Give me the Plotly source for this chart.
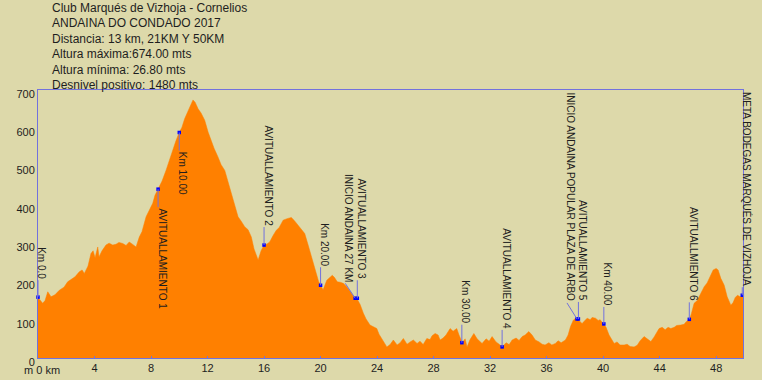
import plotly.graph_objects as go

# ---------------- data ----------------
header_lines = [
    "Club Marqués de Vizhoja - Cornelios",
    "ANDAINA DO CONDADO 2017",
    "Distancia: 13 km, 21KM Y 50KM",
    "Altura máxima:674.00 mts",
    "Altura mínima: 26.80 mts",
    "Desnivel positivo: 1480 mts",
]

dist_km = [
    0.00, 0.33, 0.50, 0.69, 0.92, 1.20, 1.51, 1.84, 2.10, 2.41, 2.62, 2.92, 3.12, 3.28, 3.54,
    3.75, 3.90, 4.04, 4.23, 4.32, 4.53, 4.81, 5.03, 5.29, 5.52, 5.73, 6.00, 6.23, 6.46, 6.73,
    6.94, 7.17, 7.36, 7.65, 7.86, 8.12, 8.28, 8.52, 8.78, 9.06, 9.27, 9.54, 9.77, 10.00, 10.19,
    10.38, 10.62, 10.83, 10.97, 11.12, 11.33, 11.54, 11.80, 12.04, 12.27, 12.46, 12.74, 12.96,
    13.22, 13.45, 13.69, 13.88, 14.16, 14.37, 14.63, 14.87, 15.10, 15.29, 15.43, 15.58, 15.79,
    16.00, 16.21, 16.40, 16.64, 16.87, 17.06, 17.35, 17.63, 17.93, 18.12, 18.41, 18.62, 18.88,
    19.12, 19.35, 19.54, 19.70, 19.86, 20.00, 20.18, 20.44, 20.60, 20.83, 20.99, 21.18, 21.38,
    21.61, 21.88, 22.09, 22.37, 22.56, 22.80, 23.03, 23.22, 23.50, 23.72, 23.98, 24.14, 24.33,
    24.50, 24.69, 24.92, 25.15, 25.42, 25.63, 25.86, 26.12, 26.34, 26.57, 26.83, 27.04, 27.26,
    27.52, 27.75, 27.89, 28.11, 28.32, 28.46, 28.67, 28.88, 29.17, 29.38, 29.64, 29.80, 30.04,
    30.23, 30.37, 30.58, 30.85, 31.08, 31.43, 31.72, 31.93, 32.14, 32.42, 32.64, 32.85, 33.13,
    33.35, 33.56, 33.84, 34.05, 34.27, 34.48, 34.74, 34.97, 35.20, 35.47, 35.68, 35.89, 36.16,
    36.37, 36.62, 36.81, 37.03, 37.33, 37.52, 37.69, 37.88, 38.04, 38.23, 38.37, 38.51, 38.66,
    38.87, 39.08, 39.22, 39.46, 39.65, 39.79, 40.05, 40.21, 40.42, 40.56, 40.78, 40.99, 41.20,
    41.49, 41.70, 41.91, 42.19, 42.41, 42.62, 42.90, 43.12, 43.38, 43.61, 43.96, 44.18, 44.39,
    44.60, 44.79, 45.03, 45.20, 45.50, 45.73, 45.88, 46.12, 46.24, 46.44, 46.66, 46.87, 47.15,
    47.36, 47.58, 47.79, 48.00, 48.14, 48.33, 48.57, 48.78, 49.04, 49.20, 49.35, 49.51, 49.70,
    49.90,
]

elev_m = [
    158, 143, 150, 173, 160, 165, 177, 185, 199, 208, 212, 225, 230, 221, 240,
    273, 280, 262, 290, 264, 280, 295, 300, 295, 297, 302, 299, 294, 303, 296,
    290, 316, 330, 369, 383, 404, 425, 441, 462, 490, 515, 543, 568, 589, 603,
    625, 645, 665, 674, 668, 651, 640, 621, 590, 564, 548, 525, 505,
    490, 460, 430, 400, 369, 358, 343, 335, 316, 285, 270, 256, 280,
    295, 298, 303, 320, 334, 340, 360, 364, 367, 360, 347, 338, 325,
    295, 264, 240, 221, 200, 190, 178, 203, 208, 216, 210, 199, 198,
    195, 185, 173, 160, 156, 140, 117, 102, 86, 82, 77, 62, 51,
    38, 29, 35, 47, 34, 40, 51, 36, 42, 47, 38, 44, 35,
    51, 48, 58, 64, 60, 47, 52, 60, 77, 70, 77, 60, 40,
    50, 29, 48, 64, 50, 38, 50, 44, 56, 42, 36, 29, 40,
    35, 47, 52, 46, 56, 60, 69, 60, 47, 42, 36, 34, 40,
    34, 38, 45, 40, 47, 60, 82, 98, 104, 102, 95, 90, 96,
    104, 100, 106, 104, 98, 100, 89, 80, 60, 50, 38, 42, 34,
    34, 36, 30, 29, 33, 45, 56, 50, 43, 55, 77, 80, 74,
    80, 77, 80, 85, 86, 88, 95, 101, 115, 143, 150, 165, 186,
    196, 212, 230, 234, 230, 208, 190, 160, 138, 145, 158, 164, 160,
    164,
]

point_labels = [
    "Km 0.0", "AVITUALLAMIENTO 1", "Km 10.00", "AVITUALLAMIENTO 2", "Km 20.00",
    "INICIO ANDAINA 27 KM", "AVITUALLAMIENTO 3", "Km 30.00", "AVITUALLAMIENTO 4",
    "INICIO ANDAINA POPULAR PLAZA DE ARBO", "AVITUALLAMIENTO 5", "Km 40.00",
    "AVITUALLMIENTO 6", "META BODEGAS MARQUÉS DE VIZHOJA",
]
point_km = [0.0, 8.5, 10.0, 16.0, 20.0, 22.45, 22.6, 30.0, 32.85, 38.15, 38.25, 40.05, 46.1, 49.85]
point_elev = [159, 441, 589, 295, 190, 156, 156, 40, 29, 102, 102, 89, 101, 164]

x_ticks = [4, 8, 12, 16, 20, 24, 28, 32, 36, 40, 44, 48]
y_ticks = [0, 100, 200, 300, 400, 500, 600, 700]

# ---------------- style / placement ----------------
W, H = 762, 380
ML, MR, MT, MB = 38, 19, 90, 22
BG = "#DDD9AA"
ORANGE = "#FF8000"
FRAME = "#7272DD"
TXT = "#1E1E1E"
FONT = "Liberation Sans, Arial, sans-serif"
# leader line offsets in pixels (dx, dy; dy>0 goes up) for each label
leader = [(0, 17), (0, -18), (0, -18), (0, 18), (0, 18), (-10, 15), (0, 18), (0, 18),
          (0, 17), (-10, 16), (0, 17), (0, 17), (0, 17), (0, 8)]

plot_h = H - MT - MB
plot_w = W - ML - MR

fig = go.Figure()
fig.add_trace(go.Scatter(
    x=dist_km, y=elev_m, mode="lines", fill="tozeroy",
    line=dict(color=ORANGE, width=0.5), fillcolor=ORANGE,
    hoverinfo="skip", showlegend=False,
))
fig.add_trace(go.Scatter(
    x=point_km, y=point_elev, mode="markers",
    marker=dict(symbol="square", size=3.5, color="#0000FF"),
    cliponaxis=False, showlegend=False, hoverinfo="skip",
))

shapes = []
annotations = []
for lab, xk, ye, (dx, dy) in zip(point_labels, point_km, point_elev, leader):
    shapes.append(dict(
        type="line", xref="x", yref="y", xsizemode="pixel", ysizemode="pixel",
        xanchor=xk, yanchor=ye, x0=0, y0=0, x1=dx, y1=dy,
        line=dict(color=FRAME, width=1), layer="above",
    ))
    annotations.append(dict(
        x=xk, y=ye, xref="x", yref="y", text=lab, showarrow=False,
        textangle=90, xanchor="center", yanchor="bottom" if dy > 0 else "top",
        xshift=dx + 4, yshift=dy, font=dict(family=FONT, size=10, color=TXT),
        borderpad=0,
    ))

# header text
for i, line in enumerate(header_lines):
    ypx = 8 + i * 15.4
    annotations.append(dict(
        x=(50 - ML) / plot_w, y=(H - MB - ypx) / plot_h, xref="paper", yref="paper",
        text=line, showarrow=False, xanchor="left", yanchor="middle",
        font=dict(family=FONT, size=12, color=TXT),
    ))

# origin label of the x axis
annotations.append(dict(
    x=(42 - ML) / plot_w, y=-(370 - (H - MB)) / plot_h, xref="paper", yref="paper",
    text="m 0 km", showarrow=False, xanchor="center", yanchor="middle",
    font=dict(family=FONT, size=11, color=TXT), borderpad=0,
))

fig.update_layout(
    width=W, height=H,
    margin=dict(l=ML, r=MR, t=MT, b=MB, autoexpand=False),
    paper_bgcolor=BG, plot_bgcolor=BG,
    shapes=shapes, annotations=annotations,
    showlegend=False,
    xaxis=dict(
        range=[0, 49.9], tickvals=x_ticks, ticktext=[str(v) for v in x_ticks],
        showgrid=False, zeroline=False, showline=True, mirror=True,
        linecolor=FRAME, linewidth=1, ticks="inside", ticklen=2, tickcolor=FRAME,
        tickfont=dict(family=FONT, size=11, color=TXT), layer="above traces",
    ),
    yaxis=dict(
        range=[0, 700], tickvals=y_ticks, ticktext=[str(v) for v in y_ticks],
        showgrid=False, zeroline=False, showline=True, mirror=True,
        linecolor=FRAME, linewidth=1, ticks="",
        tickfont=dict(family=FONT, size=11, color=TXT), ticklabelshift=4,
        ticklabelstandoff=0, layer="above traces",
    ),
)

fig.write_html(
    "out.html",
    config={"displayModeBar": False},
    post_script="document.body.style.margin='0';document.body.style.overflow='hidden';",
)
